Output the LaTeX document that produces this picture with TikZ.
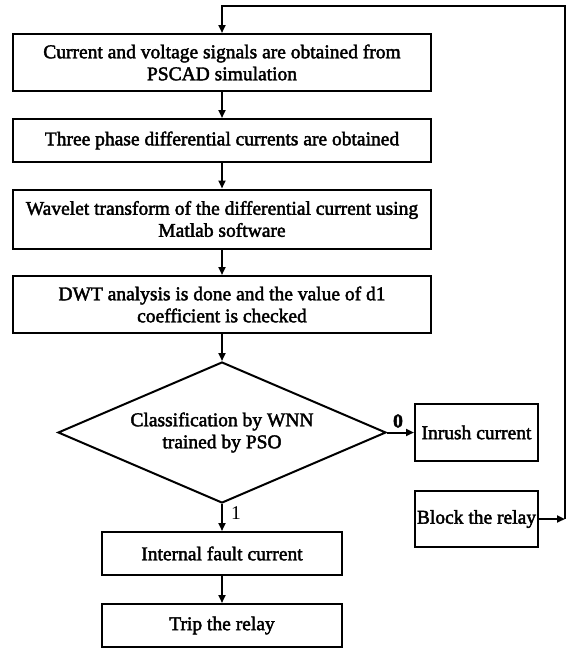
\documentclass[tikz,border=0pt]{standalone}
\usepackage{fontspec}
\setmainfont{Liberation Serif}[FakeBold=2.2]
\newfontfamily\plainfont{Liberation Serif}
\usetikzlibrary{shapes.geometric,arrows.meta}
\tikzset{
  x=1pt,y=-1pt,
  every node/.style={font=\fontsize{19.5}{22}\selectfont},
  boxnode/.style={draw,line width=2pt,rectangle,inner sep=0pt,align=center},
  decision/.style={draw,line width=2pt,diamond,aspect=2.33,inner sep=0pt,align=center,minimum width=328pt,minimum height=141pt},
  arr/.style={line width=2pt,-{Triangle[length=8pt,width=7pt]}},
  lbl/.style={inner sep=0pt}
}
\begin{document}
\begin{tikzpicture}
\useasboundingbox (0,0) rectangle (568,649);
\node[boxnode,minimum width=418pt,minimum height=57pt] (b1) at (222,62.5) {Current and voltage signals are obtained from\\PSCAD simulation};
\node[boxnode,minimum width=418pt,minimum height=43pt] (b2) at (222,140.5) {Three phase differential currents are obtained};
\node[boxnode,minimum width=418pt,minimum height=59pt] (b3) at (222,219) {Wavelet transform of the differential current using\\Matlab software};
\node[boxnode,minimum width=418pt,minimum height=57pt] (b4) at (222,304.5) {DWT analysis is done and the value of d1\\coefficient is checked};
\node[decision] (d) at (222,432.5) {Classification by WNN\\trained by PSO};
\node[boxnode,minimum width=123pt,minimum height=57pt] (inr) at (476.5,432.5) {Inrush current};
\node[boxnode,minimum width=123pt,minimum height=56pt] (blk) at (476.5,519) {Block the relay};
\node[boxnode,minimum width=240pt,minimum height=43pt] (intf) at (222,553.5) {Internal fault current};
\node[boxnode,minimum width=240pt,minimum height=43pt] (trip) at (222,625.5) {Trip the relay};
\coordinate (cR) at (565,519);
\coordinate (cT) at (565,6);
\draw[arr] (b1) -- (b2);
\draw[arr] (b2) -- (b3);
\draw[arr] (b3) -- (b4);
\draw[arr] (b4) -- (d.north);
\draw[arr] (d.east) -- (inr.west);
\draw[arr] (d.south) -- (intf.north);
\draw[arr] (intf) -- (trip);
\draw[arr] (blk.east) -- (cR);
\draw[arr] (cR) -- (cT) -| (b1.north);
\node[lbl,font=\fontsize{19.5}{22}\selectfont\bfseries] (l0) at (398,421) {0};
\node[lbl,font=\fontsize{19.5}{22}\selectfont\plainfont] (l1) at (236,513) {1};
\end{tikzpicture}
\end{document}
